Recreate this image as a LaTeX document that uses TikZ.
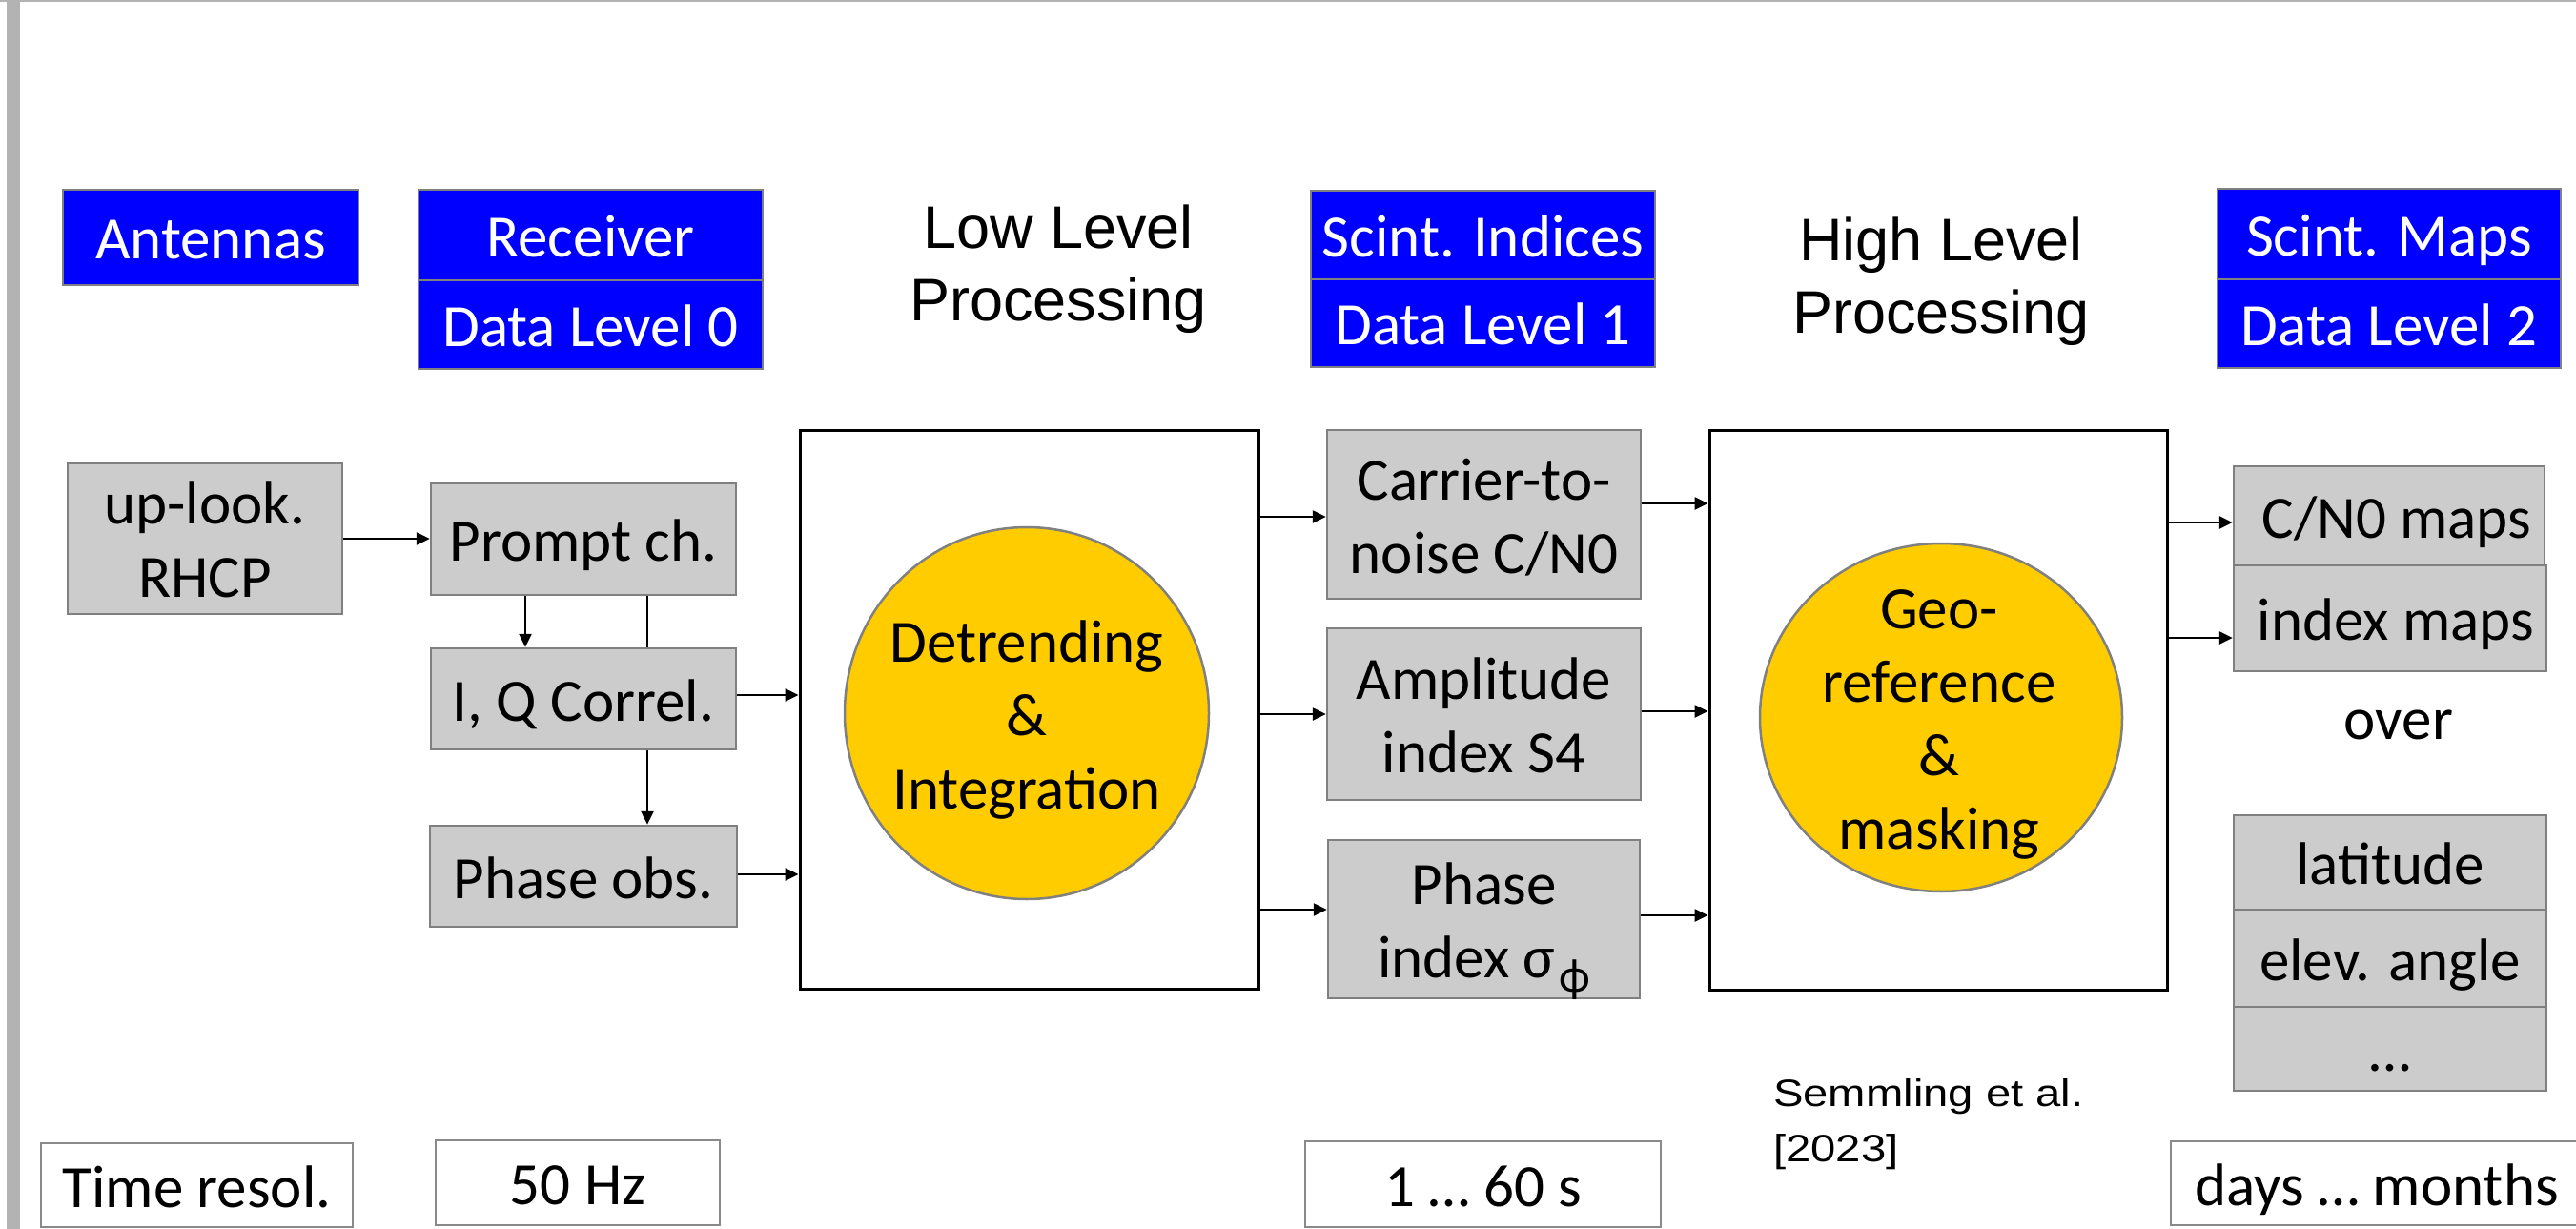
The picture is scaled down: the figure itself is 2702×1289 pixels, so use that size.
\documentclass[tikz,border=0pt]{standalone}
\usepackage{fontspec}
\setmainfont{Carlito}
\newfontfamily\arialf{Liberation Sans}
\newfontfamily\semf[FakeStretch=1.18]{Liberation Sans}
\usetikzlibrary{arrows.meta,shapes.geometric}
\definecolor{pblue}{HTML}{0000FF}
\definecolor{bordgray}{HTML}{808080}
\definecolor{fillgray}{HTML}{CCCCCC}
\definecolor{pyellow}{HTML}{FFCC00}
\definecolor{framegray}{HTML}{B3B3B3}
\definecolor{wbord}{HTML}{8A8A8A}
\newcommand\toprl{\rule{0pt}{61pt}}
\newcommand\botrl{\rule[-15pt]{0pt}{15pt}}
\newcommand\bodyf{\fontsize{63}{77}\selectfont}
\begin{document}
\begin{tikzpicture}[x=1pt,y=-1pt,
  basebox/.style={draw=bordgray, line width=2.5pt, inner sep=0pt, align=center, font=\bodyf},
  single/.style={text height=61pt, text depth=15pt},
  graybox/.style={basebox, fill=fillgray},
  bluebox/.style={basebox, fill=pblue, text=white, single},
  whitebox/.style={basebox, fill=white, draw=wbord, line width=2pt, single},
  bigbox/.style={draw=black, line width=3pt, fill=white, inner sep=0pt},
  yell/.style={ellipse, draw=bordgray, line width=2.5pt, fill=pyellow, inner sep=0pt},
  plaintext/.style={inner sep=0pt, align=center, font=\bodyf},
  titletext/.style={inner sep=0pt, align=center, font=\arialf\fontsize{63}{76}\selectfont},
  arr/.style={-{Triangle[length=14pt,width=13pt]}, line width=2.5pt, black},
  plainline/.style={line width=2.5pt, black}]
\useasboundingbox (0,0) rectangle (2702,1289);
\clip (0,0) rectangle (2702,1289);
\fill[white] (0,0) rectangle (2702,1289);
\fill[framegray] (0,0) rectangle (2702,2.5);
\fill[framegray] (7,0) rectangle (21,1289);

% header row
\node[bluebox, minimum width=310pt, minimum height=100pt] (antennas) at (221,249) {Antennas};
\node[bluebox, minimum width=361pt, minimum height=95pt] (receiver) at (619.5,246.5) {Receiver};
\node[bluebox, minimum width=361pt, minimum height=93pt] (dl0) at (619.5,340.5) {Data Level 0};
\node[bluebox, minimum width=361pt, minimum height=93pt] (indices) at (1555.5,246.5) {Scint. Indices};
\node[bluebox, minimum width=361pt, minimum height=92pt] (dl1) at (1555.5,339) {Data Level 1};
\node[bluebox, minimum width=360pt, minimum height=95pt] (maps) at (2506,245.5) {Scint. Maps};
\node[bluebox, minimum width=360pt, minimum height=93pt] (dl2) at (2506,339.5) {Data Level 2};
\node[titletext] (lowtitle) at (1110,276) {\toprl Low Level\\Processing\botrl};
\node[titletext] (hightitle) at (2036,288) {\toprl High Level\\Processing\botrl};

% receiver column
\node[graybox, minimum width=288pt, minimum height=158pt] (uplook) at (215,565) {\toprl up-look.\\RHCP\botrl};
\node[graybox, single, minimum width=320pt, minimum height=117pt] (prompt) at (612,565.5) {Prompt ch.};
\node[graybox, single, minimum width=320pt, minimum height=106pt] (iq) at (612,733) {I, Q Correl.};
\node[graybox, single, minimum width=322pt, minimum height=106pt] (phobs) at (612,919) {Phase obs.};

% low level processing
\node[bigbox, minimum width=481pt, minimum height=586pt] (low) at (1079.5,744) {};
\node[yell, minimum width=382pt, minimum height=390pt] (det) at (1077,748) {};
\node[plaintext] (dett) at (det.center) {\toprl Detrending\\\&\\Integration\botrl};

% level 1
\node[graybox, minimum width=329pt, minimum height=177pt] (carrier) at (1556.5,539.5) {\toprl Carrier-to-\\noise C/N0\botrl};
\node[graybox, minimum width=329pt, minimum height=180pt] (amp) at (1556.5,749) {\toprl Amplitude\\index S4\botrl};
\node[graybox, minimum width=327pt, minimum height=166pt] (phidx) at (1556.5,964) {\toprl Phase\\index σ\hspace{4pt}\smash{\raisebox{-15pt}{\fontsize{50}{50}\selectfont ϕ}}\botrl};

% high level processing
\node[bigbox, minimum width=480pt, minimum height=587pt] (high) at (2033,744.5) {};
\node[yell, minimum width=380pt, minimum height=365pt] (geo) at (2036,752.5) {};
\node[plaintext] (geot) at (2034,752) {\toprl Geo-\\reference\\\&\\masking\botrl};

% level 2
\node[graybox, single, minimum width=326pt, minimum height=104pt] (cnmaps) at (2506,541) {\hspace*{16pt}C/N0 maps};
\node[graybox, single, minimum width=328pt, minimum height=111pt] (idxmaps) at (2507,648.5) {\hspace*{12pt}index maps};
\node[plaintext, single] (over) at (2516,752) {over};
\node[graybox, single, minimum width=328pt, minimum height=99pt] (lat) at (2507,904.5) {latitude};
\node[graybox, single, minimum width=328pt, minimum height=102pt] (elev) at (2507,1005) {elev. angle};
\node[graybox, single, minimum width=328pt, minimum height=88pt] (dots) at (2507,1100) {…};

% time resolution row
\node[whitebox, minimum width=327pt, minimum height=88pt] (tres) at (206.5,1243) {Time resol.};
\node[whitebox, minimum width=298pt, minimum height=89pt] (hz) at (606,1240.5) {50 Hz};
\node[whitebox, minimum width=373pt, minimum height=90pt] (secs) at (1555.5,1242) {1 … 60 s};
\node[whitebox, minimum width=432pt, minimum height=88pt] (days) at (2493,1241) {days … months};
\node[inner sep=0pt, align=left, anchor=north west, font=\semf\fontsize{40}{58}\selectfont] (semm) at (1860,1131) {Semmling et al.\\{[2023]}};

% connectors
\draw[arr] (uplook.east) -- (uplook.east -| prompt.west);
\draw[arr] ([xshift=-61pt]prompt.south) -- ([xshift=-61pt]iq.north);
\draw[plainline] ([xshift=67pt]prompt.south) -- ([xshift=67pt]iq.north);
\draw[arr] ([xshift=67pt]iq.south) -- ([xshift=67pt]phobs.north);
\draw[arr] ([yshift=4pt]iq.east) -- ([yshift=4pt]iq.east -| low.west);
\draw[arr] ([yshift=2pt]phobs.east) -- ([yshift=2pt]phobs.east -| low.west);
\draw[arr] ([yshift=-2.5pt]carrier.west -| low.east) -- ([yshift=-2.5pt]carrier.west);
\draw[arr] (amp.west -| low.east) -- (amp.west);
\draw[arr] ([yshift=10pt]phidx.west -| low.east) -- ([yshift=10pt]phidx.west);
\draw[arr] ([yshift=11.5pt]carrier.east) -- ([yshift=11.5pt]carrier.east -| high.west);
\draw[arr] ([yshift=3pt]amp.east) -- ([yshift=3pt]amp.east -| high.west);
\draw[arr] ([yshift=4pt]phidx.east) -- ([yshift=4pt]phidx.east -| high.west);
\draw[arr] ([yshift=-7pt]cnmaps.west -| high.east) -- ([yshift=-7pt]cnmaps.west);
\draw[arr] ([yshift=-20.5pt]idxmaps.west -| high.east) -- ([yshift=-20.5pt]idxmaps.west);
\end{tikzpicture}
\end{document}
